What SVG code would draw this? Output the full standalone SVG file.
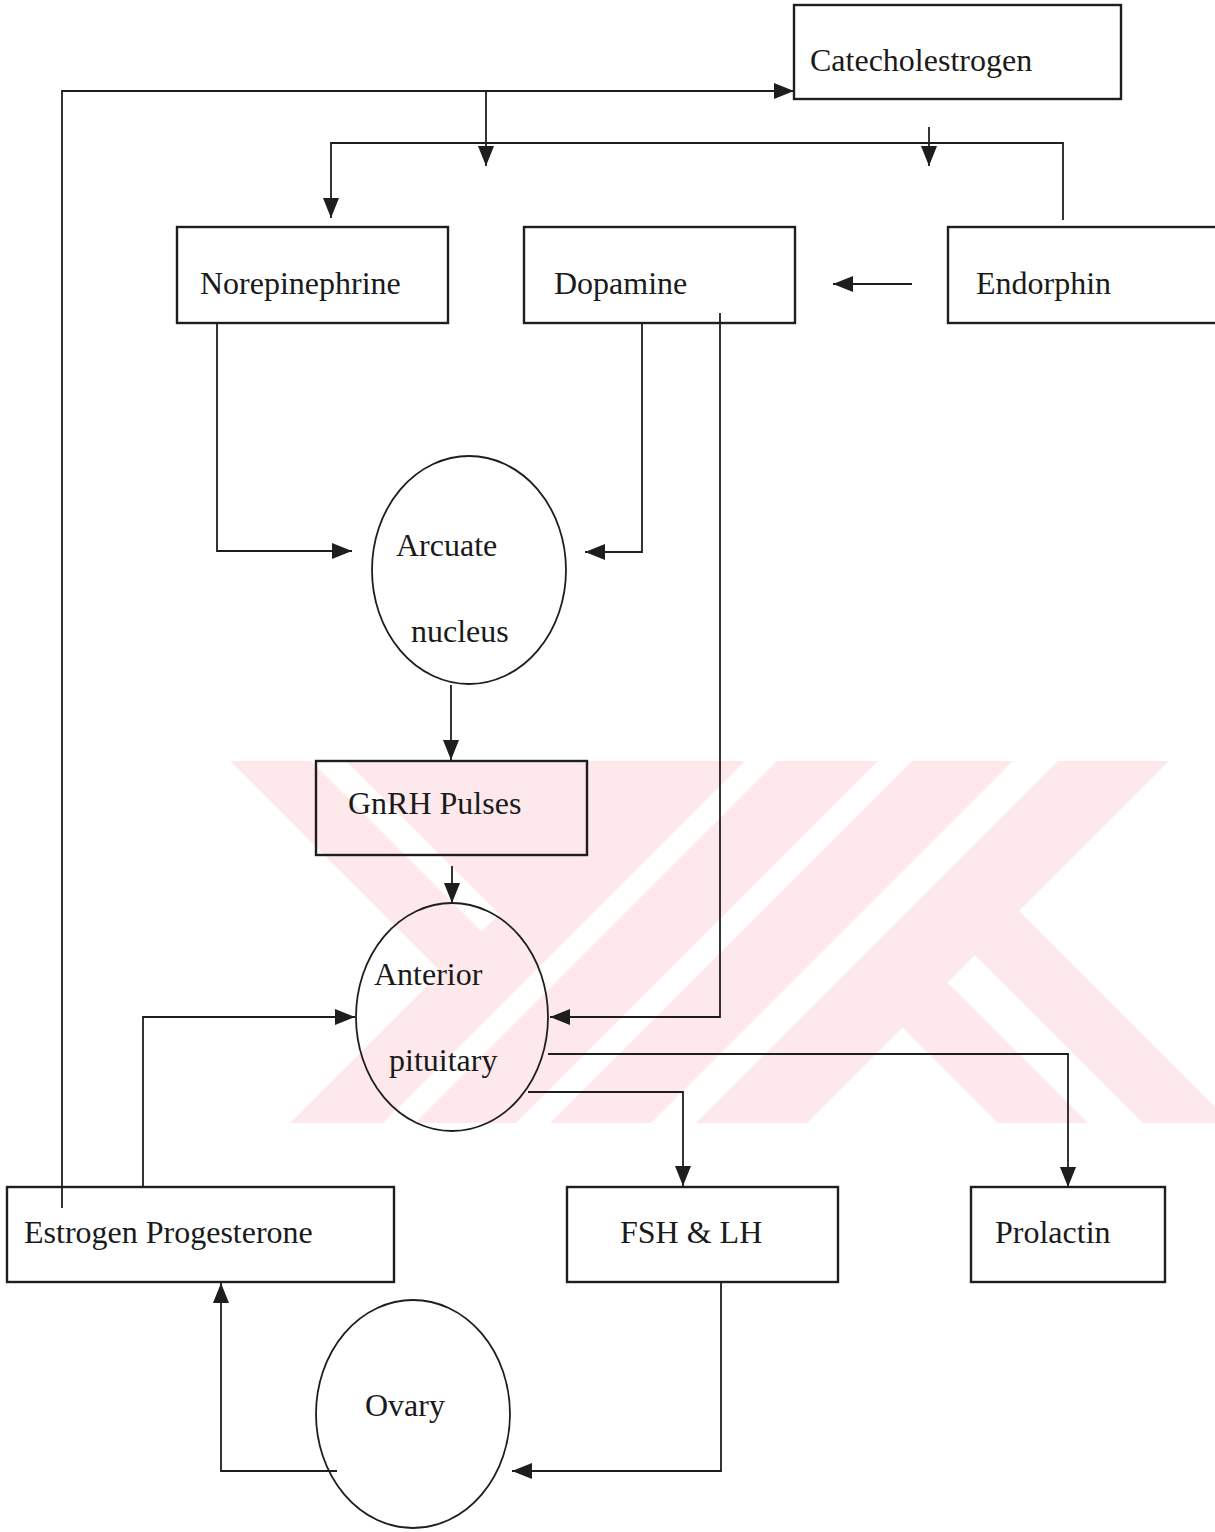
<svg xmlns="http://www.w3.org/2000/svg" width="1215" height="1532" viewBox="0 0 1215 1532">
<defs>
<style>
.box{fill:none;stroke:#1e1e1e;stroke-width:2.4}
.ell{fill:none;stroke:#1e1e1e;stroke-width:1.8}
.lbl{font-family:"Liberation Serif","Times New Roman",serif;font-size:32px;fill:#1a1a1a}
.con{fill:none;stroke:#1e1e1e;stroke-width:1.8;marker-end:url(#ah)}
.wm{fill:#fde8ec}
.wg{fill:#ffffff}
</style>
<marker id="ah" markerUnits="userSpaceOnUse" markerWidth="20" markerHeight="16" refX="20" refY="8" orient="auto">
<path d="M0,0 L20,8 L0,16 z" fill="#1e1e1e"/>
</marker>
</defs>
<rect width="1215" height="1532" fill="#ffffff"/>
<g id="watermark">
<polygon class="wm" points="230,761 1169,761 1019,911 1215,1107 1215,1123 290,1123 441,972"/>
<polygon class="wg" points="975,955 947.5,982.5 1088,1123 1143,1123"/>
<polygon class="wg" points="902.5,1027.5 807,1123 998,1123"/>
<polygon class="wg" points="745,761 777,761 415,1123 383,1123"/>
<polygon class="wg" points="878,761 912,761 550,1123 516,1123"/>
<polygon class="wg" points="1013,761 1058,761 696,1123 651,1123"/>
<polygon class="wg" points="311,761 346,761 499,914 481.5,931.5"/>
</g>
<g id="connectors">
<path class="con" d="M62,1208 V91 H794"/>
<path class="con" d="M486,91 V166"/>
<path class="con" d="M1063,220 V143 H331 V218"/>
<path class="con" d="M929,127 V166"/>
<path class="con" d="M912,284 H833"/>
<path class="con" d="M217,323 V551 H352"/>
<path class="con" d="M642,323 V552 H585"/>
<path class="con" d="M720,313 V1017 H550"/>
<path class="con" d="M451,685 V760"/>
<path class="con" d="M452,866 V903"/>
<path class="con" d="M143,1187 V1017 H355"/>
<path class="con" d="M548,1054 H1068 V1187"/>
<path class="con" d="M528,1092 H683 V1186"/>
<path class="con" d="M721,1282 V1471 H512"/>
<path class="con" d="M337,1471 H221 V1283"/>
</g>
<g id="catecholestrogen">
<rect class="box" x="794" y="5" width="327" height="94"/>
<text class="lbl" x="810" y="71">Catecholestrogen</text>
</g>
<g id="norepinephrine">
<rect class="box" x="177" y="227" width="271" height="96"/>
<text class="lbl" x="200" y="294">Norepinephrine</text>
</g>
<g id="dopamine">
<rect class="box" x="524" y="227" width="271" height="96"/>
<text class="lbl" x="554" y="294">Dopamine</text>
</g>
<g id="endorphin">
<rect class="box" x="948" y="227" width="290" height="96"/>
<text class="lbl" x="976" y="294">Endorphin</text>
</g>
<g id="arcuate">
<ellipse class="ell" cx="469" cy="570" rx="97" ry="114"/>
<text class="lbl" x="396" y="556">Arcuate</text>
<text class="lbl" x="411" y="642">nucleus</text>
</g>
<g id="gnrh">
<rect class="box" x="316" y="761" width="271" height="94"/>
<text class="lbl" x="348" y="814">GnRH Pulses</text>
</g>
<g id="pituitary">
<ellipse class="ell" cx="452" cy="1017" rx="96" ry="114"/>
<text class="lbl" x="374" y="985">Anterior</text>
<text class="lbl" x="389" y="1071">pituitary</text>
</g>
<g id="estrogen">
<rect class="box" x="7" y="1187" width="387" height="95"/>
<text class="lbl" x="24" y="1243">Estrogen Progesterone</text>
</g>
<g id="fshlh">
<rect class="box" x="567" y="1187" width="271" height="95"/>
<text class="lbl" x="620" y="1243">FSH &amp; LH</text>
</g>
<g id="prolactin">
<rect class="box" x="971" y="1187" width="194" height="95"/>
<text class="lbl" x="995" y="1243">Prolactin</text>
</g>
<g id="ovary">
<ellipse class="ell" cx="413" cy="1414" rx="97" ry="114"/>
<text class="lbl" x="365" y="1416">Ovary</text>
</g>
</svg>
